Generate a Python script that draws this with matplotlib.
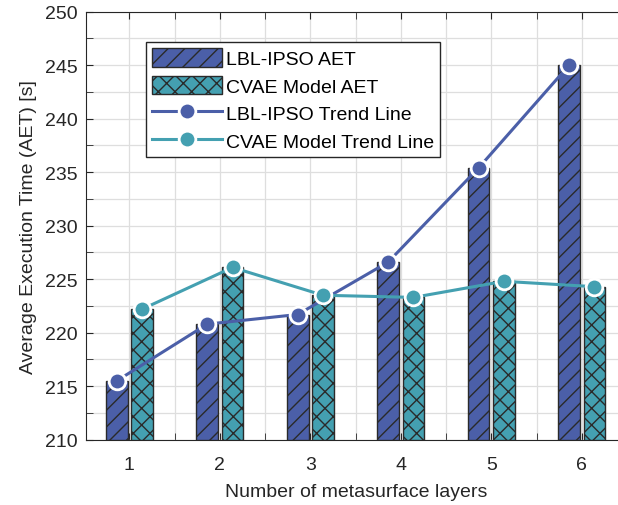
import numpy as np
import matplotlib
matplotlib.use('Agg')
import matplotlib.pyplot as plt
from matplotlib.ticker import MultipleLocator

plt.rcParams['font.family'] = ['Liberation Sans', 'DejaVu Sans']
plt.rcParams['hatch.linewidth'] = 1.0

layers = [1, 2, 3, 4, 5, 6]
lbl_aet = [215.5, 220.8, 221.7, 226.6, 235.4, 245.0]
cvae_aet = [222.2, 226.1, 223.5, 223.3, 224.8, 224.3]

c_lbl = '#4b5fa8'
c_cvae = '#44a0b1'

fig = plt.figure(figsize=(6.18, 5.06), dpi=100)
ax = fig.add_axes([86/618, (506-440.7)/506, (627-86)/618, (440.7-12.7)/506])

x = np.array(layers)
off = 0.14
w = 0.24
b1 = ax.bar(x-off, np.array(lbl_aet)-210, w, bottom=210, color=c_lbl, edgecolor='#2a2a2a',
            linewidth=1, hatch='//', zorder=3, label='LBL-IPSO AET')
b2 = ax.bar(x+off, np.array(cvae_aet)-210, w, bottom=210, color=c_cvae, edgecolor='#2a2a2a',
            linewidth=1, hatch='xx', zorder=3, label='CVAE Model AET')

l1, = ax.plot(x-off, lbl_aet, '-o', color=c_lbl, lw=2.2, ms=12, mec='white', mew=2,
              zorder=5, label='LBL-IPSO Trend Line')
l2, = ax.plot(x+off, cvae_aet, '-o', color=c_cvae, lw=2.2, ms=12, mec='white', mew=2,
              zorder=5, label='CVAE Model Trend Line')

ax.set_xlim(0.52, 6.5)
ax.set_ylim(210, 250)
ax.set_xticks(layers)
ax.xaxis.set_minor_locator(MultipleLocator(0.5))
ax.yaxis.set_major_locator(MultipleLocator(5))
ax.yaxis.set_minor_locator(MultipleLocator(2.5))
ax.grid(True, which='both', color='#dedede', lw=0.9, zorder=0)
ax.set_axisbelow(True)
ax.tick_params(which='both', direction='in', top=True, right=True, colors='#262626',
               labelsize=14, length=5)
ax.tick_params(axis='x', which='major', pad=12)
ax.tick_params(axis='y', which='major', pad=6)
for s in ax.spines.values():
    s.set_color('#262626')

ax.set_xlabel('Number of metasurface layers', fontsize=14, color='#262626', labelpad=7)
ax.set_ylabel('Average Execution Time (AET) [s]', fontsize=14, color='#262626', labelpad=6)

leg = ax.legend([b1, b2, l1, l2], [b1.get_label(), b2.get_label(), l1.get_label(), l2.get_label()],
                loc='upper left', bbox_to_anchor=(0.111, 0.929), fontsize=14,
                fancybox=False, edgecolor='#262626', framealpha=1,
                handlelength=3.6, handleheight=1.1, borderpad=0.3,
                labelspacing=0.4, handletextpad=0.2, borderaxespad=0)
leg.get_frame().set_linewidth(1.0)

fig.savefig('out.png', dpi=100)
